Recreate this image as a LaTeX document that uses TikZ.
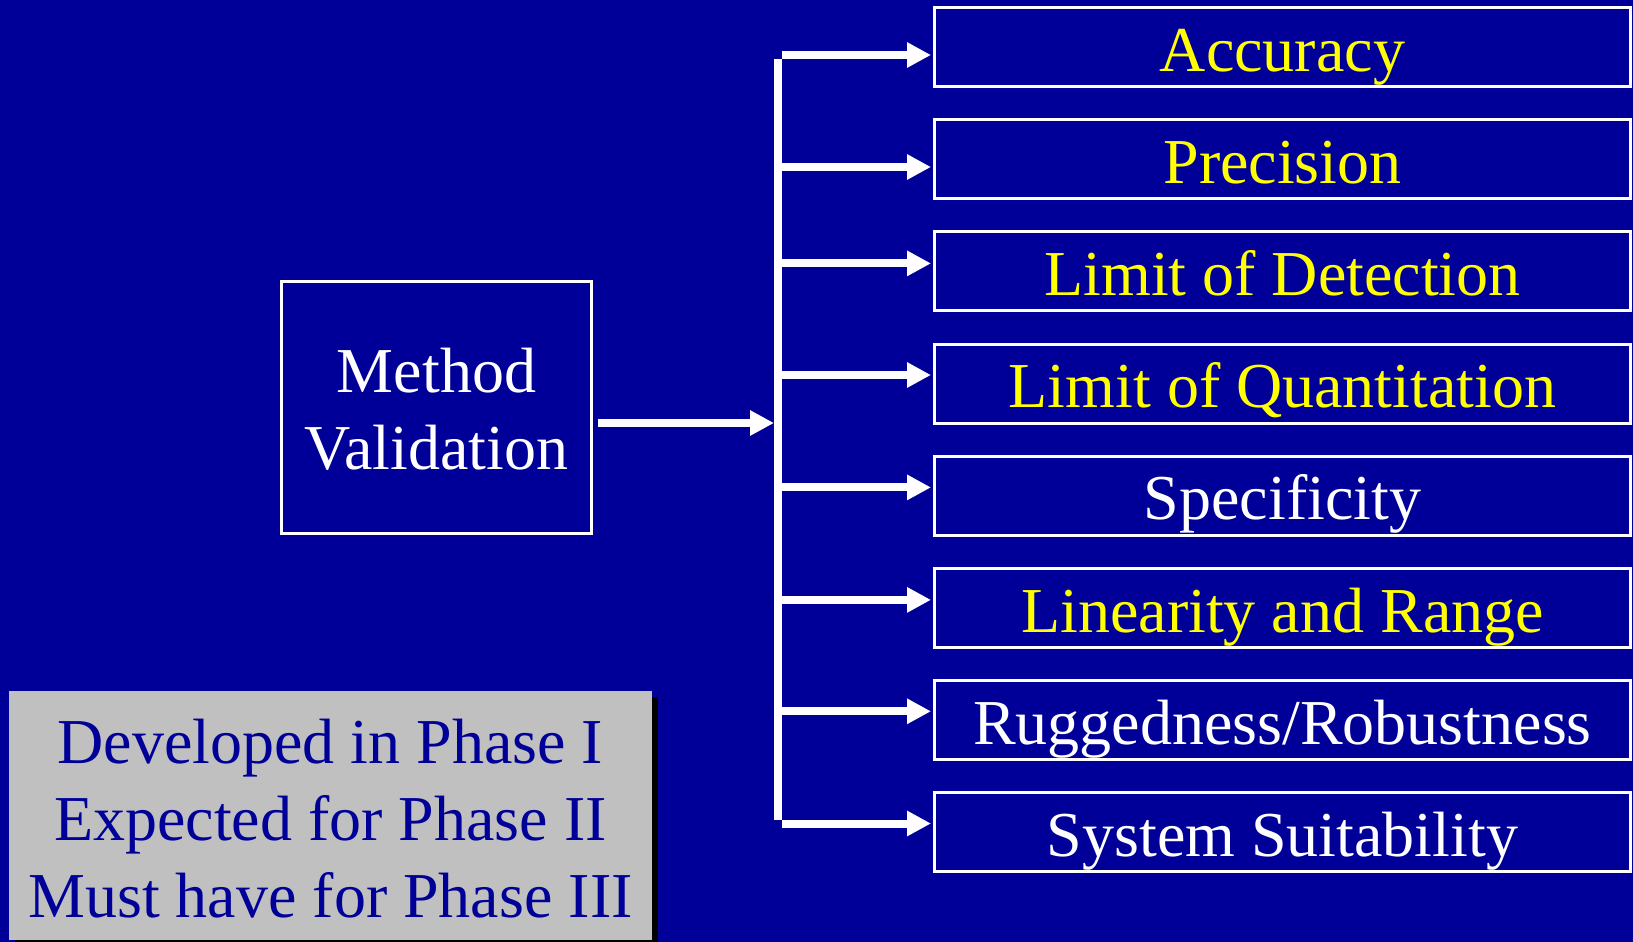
\documentclass[tikz,border=0pt]{standalone}
\usepackage{fontspec}
\setmainfont{Liberation Serif}
\usetikzlibrary{arrows.meta,shadows}
\definecolor{bg}{RGB}{0,0,153}
\definecolor{notegray}{RGB}{192,192,192}
\definecolor{hl}{RGB}{255,255,0}
\tikzset{
  big/.style={font=\fontsize{64}{77}\selectfont},
  crit/.style={draw=white, line width=3pt, fill=bg, minimum width=696pt,
    minimum height=79pt, inner sep=0pt, text height=48pt, text depth=0pt, big},
  mvbox/.style={draw=white, line width=3pt, minimum width=310pt,
    minimum height=252pt, inner sep=0pt, align=center, text=white, big},
  notebox/.style={fill=notegray, minimum width=643pt, minimum height=249pt,
    inner sep=0pt, align=center, text=bg, big,
    drop shadow={shadow xshift=6pt, shadow yshift=-6pt, fill=black, opacity=1}},
  conn/.style={draw=white, line width=8pt, -{Triangle[length=24pt,width=24pt]}},
  busline/.style={draw=white, line width=8pt},
}
\begin{document}
\begin{tikzpicture}[x=1pt,y=-1pt]
\fill[bg] (0,0) rectangle (1633,942);
\useasboundingbox (0,0) rectangle (1633,942);

% criteria boxes
\node[crit, text=hl]    (acc)  at (1282.5,47.0)  {Accuracy};
\node[crit, text=hl]    (prec) at (1282.5,159.2) {Precision};
\node[crit, text=hl]    (lod)  at (1282.5,271.4) {Limit of Detection};
\node[crit, text=hl]    (loq)  at (1282.5,383.6) {Limit of Quantitation};
\node[crit, text=white] (spec) at (1282.5,495.8) {Specificity};
\node[crit, text=hl]    (lin)  at (1282.5,608.0) {Linearity and Range};
\node[crit, text=white] (rug)  at (1282.5,720.2) {Ruggedness/Robustness};
\node[crit, text=white] (sys)  at (1282.5,832.4) {System Suitability};

% method box
\node[mvbox] (mv) at (436.5,407.5) {\rule{0pt}{48pt}Method\\Validation};

% note box
\node[notebox] (note) at (330.5,815.5) {\rule{0pt}{50pt}Developed in Phase I\\Expected for Phase II\\Must have for Phase III};

% bus
\coordinate (bt) at (778,59.5);
\coordinate (bb) at (778,819.5);
\draw[busline] (bt) -- (bb);

% method arrow
\coordinate (m) at (597.5,423);
\draw[conn, shorten >=4pt] (m) -- (m -| bt);

% branch arrows
\coordinate (a1) at (782,55.0);
\coordinate (a2) at (782,167.0);
\coordinate (a3) at (782,263.4);
\coordinate (a4) at (782,375.0);
\coordinate (a5) at (782,487.4);
\coordinate (a6) at (782,599.9);
\coordinate (a7) at (782,711.3);
\coordinate (a8) at (782,823.5);
\draw[conn, shorten >=2pt] (a1) -- (a1 -| acc.west);
\draw[conn, shorten >=2pt] (a2) -- (a2 -| prec.west);
\draw[conn, shorten >=2pt] (a3) -- (a3 -| lod.west);
\draw[conn, shorten >=2pt] (a4) -- (a4 -| loq.west);
\draw[conn, shorten >=2pt] (a5) -- (a5 -| spec.west);
\draw[conn, shorten >=2pt] (a6) -- (a6 -| lin.west);
\draw[conn, shorten >=2pt] (a7) -- (a7 -| rug.west);
\draw[conn, shorten >=2pt] (a8) -- (a8 -| sys.west);
\end{tikzpicture}
\end{document}
